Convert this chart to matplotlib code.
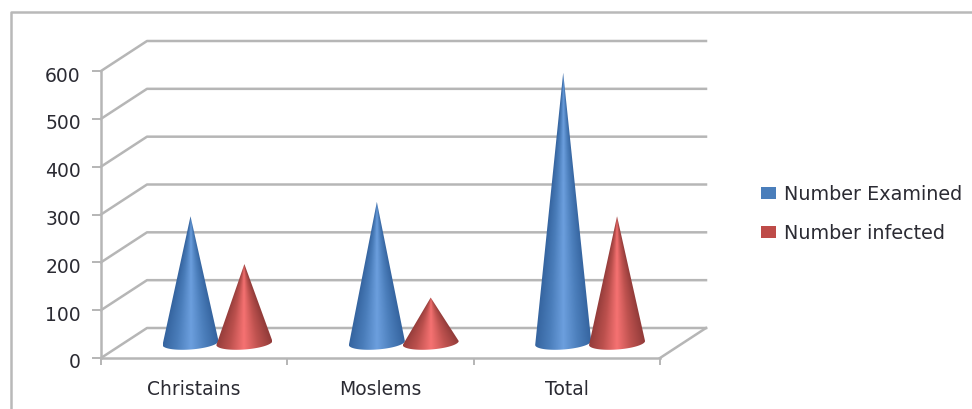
#!/usr/bin/env python3
"""Excel style 3D cone chart of examined vs. infected counts."""

import numpy as np
import matplotlib
matplotlib.use('Agg')
import matplotlib.pyplot as plt
from matplotlib.colors import LinearSegmentedColormap
from matplotlib.lines import Line2D
from matplotlib.patches import Patch, PathPatch
from matplotlib.path import Path
from matplotlib.transforms import ScaledTranslation

categories = ['Christains', 'Moslems', 'Total']
number_examined = [265, 295, 565]
number_infected = [165, 95, 265]
y_ticks = [0, 100, 200, 300, 400, 500, 600]

GRID = '#b6b6b6'
TEXT = '#2b2b33'

W, H = 972, 409
fig = plt.figure(figsize=(W / 100, H / 100), dpi=100)
plt.rcParams['font.family'] = ['DejaVu Sans']

# plot box in pixels of the picture: front wall from x 101-660, y 71-358
ax = fig.add_axes([101 / W, (H - 358) / H, 559 / W, 287 / H])
ax.set_xlim(0, 3)
ax.set_ylim(0, 600)
px_x = 3 / 559    # category units per pixel
px_y = 600 / 287  # value units per pixel
depth_x = 46 * px_x
depth_y = 30 * px_y

ax.patch.set_visible(False)
for side in ['top', 'right']:
    ax.spines[side].set_visible(False)
for side in ['left', 'bottom']:
    ax.spines[side].set_color(GRID)
    ax.spines[side].set_linewidth(1.8)

ax.set_yticks(y_ticks)
ax.set_xticks(range(len(categories) + 1))
ax.set_xticklabels([])
ax.set_xticks([i + 0.5 for i in range(len(categories))], categories, minor=True)
ax.tick_params(axis='y', length=6.5, width=1.4, color=GRID, labelcolor=TEXT, labelsize=13.5, pad=8)
ax.tick_params(axis='x', which='major', length=5, width=1.4, color=GRID)
ax.tick_params(axis='x', which='minor', length=0, labelcolor=TEXT, labelsize=13.5, pad=15.5)

# y labels sit a little under their ticks in the original
for label in ax.get_yticklabels():
    label.set_transform(label.get_transform() + ScaledTranslation(0, -3 / 100, fig.dpi_scale_trans))

# walls: slanted side lines and the back gridlines
for v in y_ticks:
    ax.add_line(Line2D([0, depth_x, 3 + depth_x], [v, v + depth_y, v + depth_y],
                       color=GRID, lw=1.8, clip_on=False, zorder=1))
ax.add_line(Line2D([3, 3 + depth_x], [0, depth_y], color=GRID, lw=1.8, clip_on=False, zorder=1))

blue_cmap = LinearSegmentedColormap.from_list('b', ['#35649f', '#4a7dba', '#6c9fde', '#4c7fbc', '#35649f'])
red_cmap = LinearSegmentedColormap.from_list('r', ['#933c3a', '#bb504d', '#f67272', '#be524f', '#933c3a'])


def draw_cone(cx, value, cmap):
    half_w = 28 * px_x
    base = depth_y / 2
    t = np.linspace(np.pi, 2 * np.pi, 40)
    ex = cx + half_w * np.cos(t)
    # the base ellipse is tilted a little, right side higher
    ey = base + 6.5 * px_y * np.sin(t) + 2 * px_y * np.cos(t)
    verts = [(cx, base + value)] + list(zip(ex, ey)) + [(cx, base + value)]
    codes = [Path.MOVETO] + [Path.LINETO] * (len(verts) - 1)
    patch = PathPatch(Path(verts, codes), fc='none', ec='none', transform=ax.transData)
    ax.add_patch(patch)

    # shading follows the cone: position across its width at each height
    bottom = base - 10 * px_y
    xs = np.linspace(-1, 1, 160)
    ys = np.linspace(bottom, base + value, 300)
    widths = np.clip((base + value - ys) / value, 0.004, None)
    shade = np.clip(xs[None, :] / widths[:, None] * 0.5 + 0.5, 0, 1)
    im = ax.imshow(shade, cmap=cmap, vmin=0, vmax=1, aspect='auto', origin='lower', zorder=3,
                   interpolation='bilinear', extent=[cx - half_w, cx + half_w, bottom, base + value])
    im.set_clip_path(patch)


for i in range(len(categories)):
    centre = i + 0.5 + depth_x / 2
    draw_cone(centre - 0.143, number_examined[i], blue_cmap)
    draw_cone(centre + 0.146, number_infected[i], red_cmap)

ax.set_xlim(0, 3)
ax.set_ylim(0, 600)

handles = [Patch(fc='#4a7ebb', ec='none', label='Number Examined'),
           Patch(fc='#be4b48', ec='none', label='Number infected')]
fig.legend(handles=handles, loc='center left', bbox_to_anchor=(761 / W, (H - 214) / H),
           frameon=False, fontsize=13.8, labelcolor=TEXT, handlelength=0.8, handleheight=0.6,
           handletextpad=0.38, labelspacing=1.05, borderpad=0, borderaxespad=0)

# outer chart frame, open at the right and bottom
fig.add_artist(Line2D([11 / W, 11 / W, 1], [0, (H - 12) / H, (H - 12) / H],
                      color='#b9b9b9', lw=1.8))

fig.savefig('out.png', dpi=100)
